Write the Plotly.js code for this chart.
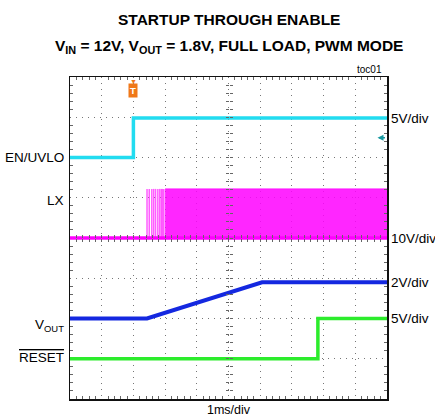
<!DOCTYPE html>
<html><head><meta charset="utf-8">
<script src="https://cdn.plot.ly/plotly-3.0.1.min.js"></script>
<style>html,body{margin:0;padding:0;background:#fff}#c{width:435px;height:419px}</style>
</head><body><div id="c"></div>
<script>
// time in ms (trigger at 0), 1 ms/div
var timeRange = [-2, 8];
// EN/UVLO (V), 5 V/div
var enTime = [-2, 0, 0, 8];
var enVolt = [0, 0, 4.9, 4.9];
// LX (V), 10 V/div
var lxBaseTime = [-2, 8];
var lxBaseVolt = [0, 0];
var lxPulseTimes = [0.43, 0.5, 0.58, 0.64, 0.7, 0.77, 0.83, 0.88, 0.92, 0.96];
var lxPulseVolt = 12.2;
var lxBandTime = [1.0, 8];
var lxBandVolt = [12.2, 12.2];
// VOUT (V), 2 V/div
var voutTime = [-2, 0.43, 4.06, 8];
var voutVolt = [0, 0, 1.8, 1.8];
// RESET (V), 5 V/div
var resetTime = [-2, 5.82, 5.82, 8];
var resetVolt = [0, 0, 5, 5];

var pulseX = [], pulseY = [];
lxPulseTimes.forEach(function(t){ pulseX.push(t, t, null); pulseY.push(0, lxPulseVolt, null); });

var FONT = 'Liberation Sans, Arial, sans-serif';
var traces = [
  {x: lxBandTime, y: lxBandVolt, yaxis: 'y2', mode: 'lines', line: {color: 'rgba(255,0,255,0.85)', width: 1}, fill: 'tozeroy', fillcolor: 'rgba(255,0,255,0.85)'},
  {x: pulseX, y: pulseY, yaxis: 'y2', mode: 'lines', line: {color: 'rgba(255,40,255,0.75)', width: 1.5}},
  {x: lxBaseTime, y: lxBaseVolt, yaxis: 'y2', mode: 'lines', line: {color: '#ff00ff', width: 3.5}},
  {x: enTime, y: enVolt, yaxis: 'y', mode: 'lines', line: {color: '#22dcf0', width: 3.5}},
  {x: voutTime, y: voutVolt, yaxis: 'y3', mode: 'lines', line: {color: '#1428e0', width: 4}},
  {x: resetTime, y: resetVolt, yaxis: 'y4', mode: 'lines', line: {color: '#2cec2c', width: 3.5}}
];

var hidden = {overlaying: 'y', showgrid: false, zeroline: false, showticklabels: false, ticks: '', showline: false};
var layout = {
  width: 435, height: 419,
  margin: {l: 70, r: 48, t: 77, b: 20},
  paper_bgcolor: '#fff', plot_bgcolor: '#fff',
  showlegend: false,
  font: {family: FONT, color: '#000', size: 13.5},
  xaxis: {range: timeRange, dtick: 1, tick0: 0, showgrid: true, griddash: '1px,5px', gridcolor: '#777', gridwidth: 1,
    zeroline: false, showticklabels: false, ticks: '', showline: true, linecolor: '#111', linewidth: 1.5, mirror: 'allticks',
    minor: {ticks: 'inside', dtick: 0.2, tick0: 0, ticklen: 3, tickcolor: '#666', showgrid: false}},
  xaxis2: {range: timeRange, overlaying: 'x', anchor: 'free', position: 0.5, side: 'bottom', showgrid: false, zeroline: false,
    showticklabels: false, showline: false, ticks: 'inside', dtick: 0.2, tick0: 0, ticklen: 3, tickcolor: '#666'},
  xaxis3: {range: timeRange, overlaying: 'x', anchor: 'free', position: 0.5, side: 'top', showgrid: false, zeroline: false,
    showticklabels: false, showline: false, ticks: 'inside', dtick: 0.2, tick0: 0, ticklen: 3, tickcolor: '#666'},
  yaxis: {range: [-30, 10], dtick: 5, tick0: 0, showgrid: true, griddash: '1px,5px', gridcolor: '#777', gridwidth: 1,
    zeroline: false, showticklabels: false, ticks: '', showline: true, linecolor: '#111', linewidth: 1.5, mirror: 'allticks',
    minor: {ticks: 'inside', dtick: 1, tick0: 0, ticklen: 3, tickcolor: '#666', showgrid: false}},
  yaxis2: Object.assign({range: [-40, 40]}, hidden),
  yaxis3: Object.assign({range: [-4, 12]}, hidden),
  yaxis4: Object.assign({range: [-5, 35]}, hidden),
  yaxis5: {range: [-30, 10], overlaying: 'y', anchor: 'free', position: 0.5, side: 'left', showgrid: false, zeroline: false,
    showticklabels: false, showline: false, ticks: 'inside', dtick: 1, tick0: 0, ticklen: 3, tickcolor: '#666'},
  yaxis6: {range: [-30, 10], overlaying: 'y', anchor: 'free', position: 0.5, side: 'right', showgrid: false, zeroline: false,
    showticklabels: false, showline: false, ticks: 'inside', dtick: 1, tick0: 0, ticklen: 3, tickcolor: '#666'},
  annotations: [
    {xref: 'paper', yref: 'paper', x: 0.502, y: 1.211, text: '<b>STARTUP THROUGH ENABLE</b>', showarrow: false, font: {size: 15.5, family: FONT}},
    {xref: 'paper', yref: 'paper', x: 0.502, y: 1.13, text: '<b>V<sub>IN</sub> = 12V, V<sub>OUT</sub> = 1.8V, FULL LOAD, PWM MODE</b>', showarrow: false, font: {size: 15.5, family: FONT}},
    {xref: 'paper', yref: 'paper', x: 0.99, y: 1.0, yanchor: 'bottom', xanchor: 'right', text: 'toc01', showarrow: false, font: {size: 10, family: FONT}},
    {xref: 'paper', yref: 'y', x: -0.012, y: 0, xanchor: 'right', text: 'EN/UVLO', showarrow: false},
    {xref: 'paper', yref: 'y2', x: -0.012, y: 9.4, xanchor: 'right', text: 'LX', showarrow: false},
    {xref: 'paper', yref: 'y3', x: -0.012, y: -0.35, xanchor: 'right', text: 'V<sub>OUT</sub>', showarrow: false},
    {xref: 'paper', yref: 'y4', x: -0.012, y: 0.1, xanchor: 'right', text: '<span style="text-decoration:overline">RESET</span>', showarrow: false},
    {xref: 'paper', yref: 'y', x: 1.006, y: 4.9, xanchor: 'left', text: '5V/div', showarrow: false},
    {xref: 'paper', yref: 'y2', x: 1.006, y: 0, xanchor: 'left', text: '10V/div', showarrow: false},
    {xref: 'paper', yref: 'y3', x: 1.006, y: 1.8, xanchor: 'left', text: '2V/div', showarrow: false},
    {xref: 'paper', yref: 'y4', x: 1.006, y: 5, xanchor: 'left', text: '5V/div', showarrow: false},
    {xref: 'paper', yref: 'paper', x: 0.5, y: 0, yanchor: 'top', yshift: -2, text: '1ms/div', showarrow: false, font: {size: 12.5, family: FONT}},
    {xref: 'x', yref: 'paper', x: 0, y: 1, yanchor: 'top', yshift: -6, text: '<b>T</b>', showarrow: false, bgcolor: '#f07818', font: {size: 9.5, color: '#fff', family: FONT}, borderpad: 1},
    {xref: 'x', yref: 'paper', x: 0, y: 1, yanchor: 'top', yshift: 1, text: '▼', showarrow: false, font: {size: 7, color: '#f07818'}},
    {xref: 'paper', yref: 'y', x: 0.97, y: 2.45, ax: 9, ay: 0, text: '', showarrow: true, arrowhead: 2, arrowsize: 0.8, arrowwidth: 1.5, arrowcolor: '#1898a0'}
  ]
};
traces.push({x: [0], y: [0], xaxis: 'x2', yaxis: 'y5', mode: 'markers', marker: {opacity: 0}, hoverinfo: 'skip'});
traces.push({x: [0], y: [0], xaxis: 'x3', yaxis: 'y6', mode: 'markers', marker: {opacity: 0}, hoverinfo: 'skip'});
Plotly.newPlot('c', traces, layout, {staticPlot: true});
</script></body></html>
